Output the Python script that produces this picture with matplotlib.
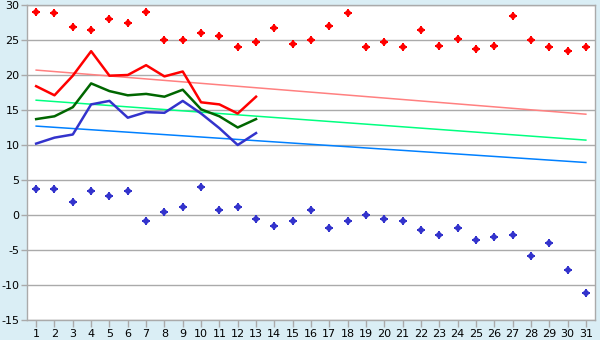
import matplotlib
matplotlib.use("Agg")
import matplotlib.pyplot as plt

plt.rcParams["axes.unicode_minus"] = False

# days of the month
days = list(range(1, 32))

# record highs / lows (markers)
record_max = [29.0, 28.8, 26.8, 26.4, 28.0, 27.4, 29.0, 25.0, 25.0, 26.0,
              25.5, 24.0, 24.7, 26.7, 24.4, 25.0, 27.0, 28.8, 24.0, 24.7,
              24.0, 26.4, 24.2, 25.1, 23.7, 24.1, 28.4, 25.0, 24.0, 23.4, 24.0]
record_min = [3.7, 3.7, 1.8, 3.4, 2.7, 3.4, -0.9, 0.5, 1.2, 4.0,
              0.7, 1.2, -0.5, -1.6, -0.9, 0.7, -1.8, -0.8, 0.0, -0.5,
              -0.8, -2.2, -2.9, -1.8, -3.6, -3.2, -2.9, -5.8, -4.0, -7.9, -11.2]

# observed values so far (days 1-13)
obs_days = list(range(1, 14))
obs_max = [18.4, 17.1, 19.9, 23.4, 19.9, 20.0, 21.4, 19.8, 20.5, 16.1, 15.8, 14.5, 16.9]
obs_mean = [13.7, 14.1, 15.4, 18.8, 17.7, 17.1, 17.3, 16.9, 17.9, 15.1, 14.1, 12.5, 13.7]
obs_min = [10.2, 11.05, 11.5, 15.8, 16.3, 13.9, 14.7, 14.6, 16.3, 14.5, 12.4, 10.0, 11.7]

# normals: start and end of month
normal_days = [1, 31]
normal_max = [20.7, 14.4]
normal_mean = [16.4, 10.7]
normal_min = [12.7, 7.5]

y_ticks = list(range(-15, 31, 5))

bg = "#DAEEF5"
grid_col = "#AAAAAA"

fig = plt.figure(figsize=(6, 3.4), dpi=100, facecolor=bg)
ax = fig.add_axes([0.045, 0.0588, 0.9467, 0.9265])
ax.set_facecolor("white")

# normals
ax.plot(normal_days, normal_max, color="#FF8080", lw=1.1)
ax.plot(normal_days, normal_mean, color="#00FF80", lw=1.1)
ax.plot(normal_days, normal_min, color="#0080FF", lw=1.1)

# observed
ax.plot(obs_days, obs_max, color="#FF0000", lw=1.8)
ax.plot(obs_days, obs_mean, color="#006600", lw=1.8)
ax.plot(obs_days, obs_min, color="#3333CC", lw=1.8)

# records: chunky cross markers (diamond + plus)
for vals, col in [(record_max, "#FF0000"), (record_min, "#3333CC")]:
    ax.plot(days, vals, "D", color=col, ms=3.6, mew=0)
    ax.plot(days, vals, "P", color=col, ms=5.5, mew=0)

ax.set_xlim(0.5, 31.5)
ax.set_ylim(-15, 30)
ax.set_xticks(days)
ax.set_yticks(y_ticks)
ax.yaxis.grid(True, color=grid_col, lw=1)
ax.set_axisbelow(True)
ax.tick_params(axis="both", colors=grid_col, labelcolor="black", labelsize=8,
               length=4, width=1, pad=1.5)
ax.tick_params(axis="x", length=5)
for s in ax.spines.values():
    s.set_color(grid_col)
    s.set_linewidth(1)

fig.savefig("out.png", dpi=100, facecolor=bg)
